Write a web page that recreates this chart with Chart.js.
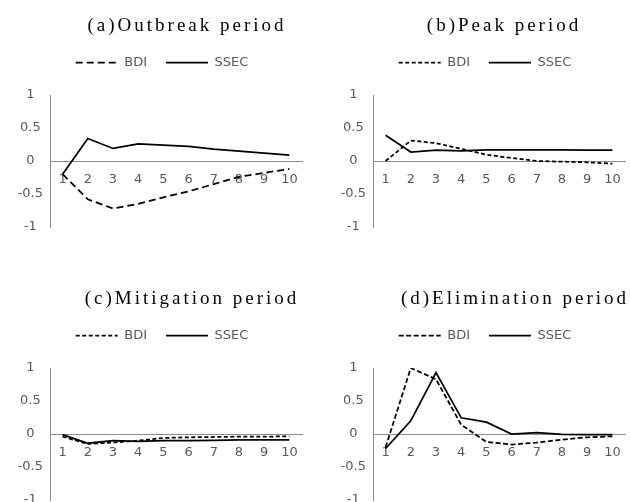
<!DOCTYPE html>
<html>
<head>
<meta charset="utf-8">
<script src="https://cdn.jsdelivr.net/npm/chart.js@4.4.0/dist/chart.umd.min.js"></script>
<style>
  html, body { margin: 0; padding: 0; background: #fff; overflow: hidden; width: 630px; height: 502px; }
  .panel { position: absolute; width: 315px; height: 250px; }
</style>
</head>
<body>
<div class="panel" style="left:0;top:0"><canvas id="chartA" width="315" height="250"></canvas></div>
<div class="panel" style="left:323px;top:0"><canvas id="chartB" width="315" height="250"></canvas></div>
<div class="panel" style="left:0;top:273px"><canvas id="chartC" width="315" height="250"></canvas></div>
<div class="panel" style="left:323px;top:273px"><canvas id="chartD" width="315" height="250"></canvas></div>
<script>
// ===== data =====
const periods = ['1', '2', '3', '4', '5', '6', '7', '8', '9', '10'];
const seriesNames = ['BDI', 'SSEC'];
const panelTitles = ['(a)Outbreak period', '(b)Peak period', '(c)Mitigation period', '(d)Elimination period'];
const yTickMin = -1;
const yTickMax = 1;
const yTickStep = 0.5;

const bdiOutbreak = [-0.2, -0.58, -0.72, -0.65, -0.55, -0.46, -0.35, -0.24, -0.18, -0.12];
const ssecOutbreak = [-0.2, 0.34, 0.19, 0.26, 0.24, 0.22, 0.18, 0.15, 0.12, 0.09];
const bdiPeak = [0.0, 0.31, 0.27, 0.185, 0.095, 0.045, 0.0, -0.01, -0.02, -0.04];
const ssecPeak = [0.39, 0.135, 0.165, 0.155, 0.17, 0.17, 0.17, 0.17, 0.165, 0.165];
const bdiMitigation = [-0.04, -0.15, -0.13, -0.10, -0.06, -0.05, -0.045, -0.04, -0.04, -0.035];
const ssecMitigation = [-0.01, -0.14, -0.10, -0.11, -0.10, -0.10, -0.095, -0.09, -0.09, -0.09];
const bdiElimination = [-0.2, 1.0, 0.83, 0.14, -0.12, -0.16, -0.13, -0.085, -0.05, -0.035];
const ssecElimination = [-0.22, 0.20, 0.93, 0.245, 0.18, 0.0, 0.02, -0.005, -0.01, -0.01];

// ===== styles =====
const axisColor = '#8c8c8c';
const tickColor = '#595959';
const lineColor = '#000000';
Chart.defaults.font.family = '"DejaVu Sans", "Liberation Sans", sans-serif';

// title drawn with letter spacing (serif, like the original figure)
const panelTitle = {
    id: 'panelTitle',
    afterDraw(chart, args, opts) {
        const ctx = chart.ctx;
        ctx.save();
        ctx.font = '19px "Liberation Serif", "Times New Roman", serif';
        ctx.letterSpacing = '3px';
        ctx.fillStyle = '#000';
        ctx.textAlign = 'center';
        ctx.textBaseline = 'middle';
        ctx.fillText(opts.text, opts.x, opts.y);
        ctx.restore();
    }
};

// room between legend and plot, and legend shifted a bit right
const legendPlace = {
    id: 'legendPlace',
    beforeInit(chart) {
        if (!chart.legend) return;
        const fit = chart.legend.fit;
        chart.legend.fit = function () { fit.bind(chart.legend)(); this.height += 16; };
    },
    afterLayout(chart) {
        if (chart.legend) chart.legend.left = 22;
    }
};

function makePanel(canvasId, title, titleX, bdi, ssec, bdiDash) {
    const ctx = document.getElementById(canvasId).getContext('2d');
    return new Chart(ctx, {
        type: 'line',
        data: {
            labels: periods,
            datasets: [
                { label: seriesNames[0], data: bdi, borderColor: lineColor, borderWidth: 1.75, borderDash: bdiDash, pointRadius: 0, tension: 0, fill: false },
                { label: seriesNames[1], data: ssec, borderColor: lineColor, borderWidth: 1.75, borderDash: [], pointRadius: 0, tension: 0, fill: false }
            ]
        },
        options: {
            responsive: false,
            animation: false,
            layout: { padding: { top: 37, left: 0, right: 13, bottom: 23 } },
            plugins: {
                panelTitle: { text: title, x: titleX, y: 26 },
                title: { display: false },
                tooltip: { enabled: false },
                legend: {
                    position: 'top',
                    align: 'center',
                    labels: {
                        usePointStyle: true,
                        pointStyleWidth: 42,
                        boxHeight: 12,
                        padding: 19,
                        color: tickColor,
                        font: { size: 13 },
                        generateLabels: chart => Chart.defaults.plugins.legend.labels.generateLabels(chart).map(item => {
                            const ds = chart.data.datasets[item.datasetIndex];
                            return { ...item, pointStyle: 'line', lineDash: ds.borderDash, lineWidth: ds.borderWidth, strokeStyle: ds.borderColor };
                        })
                    }
                }
            },
            scales: {
                x: {
                    type: 'category',
                    offset: true,
                    position: { y: 0 },
                    grid: { display: false, drawTicks: false },
                    border: { display: true, color: axisColor, width: 1 },
                    ticks: { color: tickColor, font: { size: 13 }, padding: 11, maxRotation: 0, autoSkip: false }
                },
                y: {
                    min: yTickMin,
                    max: yTickMax,
                    grid: { display: false, drawTicks: false },
                    border: { display: true, color: axisColor, width: 1 },
                    ticks: { stepSize: yTickStep, color: tickColor, font: { size: 13 }, padding: 7, crossAlign: 'center', callback: v => String(v) },
                    afterFit(scale) { scale.width = 50; }
                }
            }
        },
        plugins: [panelTitle, legendPlace]
    });
}

makePanel('chartA', panelTitles[0], 187, bdiOutbreak, ssecOutbreak, [7, 4]);
makePanel('chartB', panelTitles[1], 181, bdiPeak, ssecPeak, [4, 2.5]);
makePanel('chartC', panelTitles[2], 192, bdiMitigation, ssecMitigation, [4, 2.5]);
makePanel('chartD', panelTitles[3], 192, bdiElimination, ssecElimination, [5, 2.5]);
</script>
</body>
</html>
